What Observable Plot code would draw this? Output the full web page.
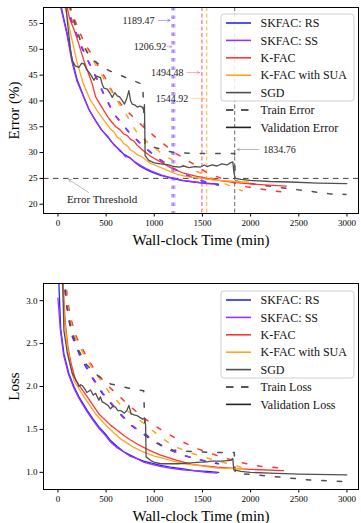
<!DOCTYPE html>
<html><head><meta charset="utf-8">
<script src="https://cdn.jsdelivr.net/npm/d3@7"></script>
<script src="https://cdn.jsdelivr.net/npm/@observablehq/plot@0.6"></script>
<style>
body{margin:0;background:#fff;}
#wrap{position:relative;width:361px;height:523px;font-family:"Liberation Serif","Times New Roman",serif;background:#fff;}
#topChart,#bottomChart{position:absolute;left:0;}
#topChart{top:0}#bottomChart{top:260px}
#legend{position:absolute;left:0;top:0;pointer-events:none}
</style></head><body><div id="wrap"><div id="topChart"></div><div id="bottomChart"></div><svg id="legend" width="361" height="523"></svg></div>
<script>
// ---------- data ----------
const methods = ["SKFAC: RS", "SKFAC: SS", "K-FAC", "K-FAC with SUA", "SGD"];
const xTicks = [0, 500, 1000, 1500, 2000, 2500, 3000];
const errTicks = [20, 25, 30, 35, 40, 45, 50, 55];
const lossTicks = [1.0, 1.5, 2.0, 2.5, 3.0];
const errorThreshold = 25;
const thresholdTimes = [1189.47, 1206.92, 1494.48, 1544.92, 1834.76]; // same order as methods

// validation error [time(min), error %]
const rsValErr = [[25,59],[60,56],[97,53.0],[149,47.8],[201,44.0],[270,40.7],[321,38.4],[391,36.2],[450,34.5],[512,33.1],[580,31.6],[650,30.2],[700,29.5],[753,28.9],[800,28.1],[857,27.3],[910,26.8],[961,26.3],[1065,25.6],[1130,25.3],[1189,25.0],[1280,24.6],[1406,24.3],[1530,24.1],[1668,23.9]];
const ssValErr = [[18,59],[55,56],[92,53.0],[145,47.6],[198,43.8],[265,40.8],[325,38.2],[395,36.0],[455,34.3],[515,33.2],[585,31.4],[650,30.4],[700,29.2],[740,29.1],[790,28.3],[860,27.5],[915,26.9],[970,26.4],[1070,25.7],[1140,25.3],[1207,25.0],[1300,24.6],[1420,24.3],[1540,24.0],[1650,23.9]];
const kfacValErr = [[75,60],[120,56],[183,53.0],[270,47.8],[356,43.3],[391,40.8],[442,39.2],[528,36.6],[600,35.0],[640,34.5],[684,33.6],[720,33.3],[750,32.6],[790,32.2],[823,31.4],[890,30.3],[961,29.3],[1065,28.2],[1180,27.0],[1306,26.0],[1420,25.5],[1545,25.0],[1700,24.5],[1900,24.1],[2100,23.8],[2370,23.5]];
const suaValErr = [[50,60],[100,56],[132,53.0],[194,47.8],[260,43.5],[338,40.1],[408,38.1],[477,36.3],[545,34.6],[580,34.0],[615,33.0],[650,32.6],[685,31.7],[720,31.3],[753,30.5],[790,30.1],[820,29.6],[860,29.3],[892,28.9],[960,27.9],[1030,27.4],[1130,26.6],[1237,25.8],[1350,25.3],[1494,25.0],[1600,24.7],[1750,24.5],[1900,24.3],[1977,24.3]];
const sgdValErr = [[75,60],[100,55],[130,50],[149,47.8],[180,46.8],[218,46.5],[245,47.3],[270,47.2],[300,46.0],[321,45.6],[350,44.8],[373,44.0],[400,44.8],[442,44.5],[460,43.2],[477,42.5],[512,42.3],[540,41.5],[564,40.7],[590,41.6],[615,41.0],[640,40.8],[667,40.1],[691,39.4],[715,40.5],[736,42.0],[755,40.0],[771,39.4],[800,39.2],[823,38.8],[850,39.0],[875,38.8],[892,38.2],[898,39.3],[905,29.4],[943,28.5],[1000,28.0],[1065,27.8],[1150,27.6],[1202,27.3],[1260,27.2],[1306,27.4],[1360,27.1],[1420,27.3],[1479,27.2],[1520,27.6],[1548,27.3],[1600,27.6],[1652,27.4],[1700,27.8],[1755,27.6],[1790,28.0],[1815,28.2],[1828,26.0],[1840,25.0],[1900,24.8],[1997,24.6],[2200,24.4],[2411,24.3],[2700,24.1],[2999,24.0]];

// train error
const rsTrainErr = [[95,59],[130,56],[205,52],[300,48.2],[410,44.0],[470,41.5],[580,37.5],[735,34.0],[880,31.3],[1030,29.0],[1190,27.0],[1350,25.5],[1500,24.5],[1665,23.7]];
const ssTrainErr = [[102,59],[138,56],[213,52],[308,48.0],[418,43.8],[478,41.3],[590,37.3],[745,33.8],[890,31.2],[1040,28.9],[1200,26.9],[1360,25.4],[1510,24.4],[1650,23.7]];
const kfacTrainErr = [[120,58.5],[170,55.9],[260,51.8],[380,48.0],[490,44.5],[598,40.6],[719,38.0],[875,35.2],[1030,32.7],[1202,30.1],[1395,27.9],[1550,26.1],[1750,24.6],[1955,23.4],[2225,22.6],[2370,22.3]];
const suaTrainErr = [[110,58.5],[150,55.9],[235,51.8],[360,48.0],[470,44.5],[600,40.5],[715,37.2],[825,33.7],[978,31.2],[1134,29.1],[1300,27.5],[1530,25.6],[1700,24.2],[1913,22.6]];
const sgdTrainErr = [[120,58.5],[160,55.9],[230,51.8],[340,48.2],[527,45.9],[735,44.3],[880,43.2],[905,31.5],[1003,31.0],[1200,30.0],[1469,29.8],[1740,29.8],[1834,29.8],[1840,24.5],[2143,23.6],[2620,22.5],[2820,22.0],[2990,21.9]];

// validation loss
const rsValLoss = [[8,3.25],[28,2.68],[62,2.38],[114,2.15],[166,2.0],[218,1.88],[305,1.72],[365,1.62],[425,1.53],[490,1.45],[546,1.37],[615,1.30],[684,1.24],[750,1.20],[823,1.16],[890,1.13],[961,1.11],[1065,1.08],[1168,1.06],[1300,1.04],[1412,1.02],[1550,1.01],[1668,1.00]];
const ssValLoss = [[0,3.03],[25,2.66],[58,2.37],[110,2.14],[162,1.99],[214,1.87],[300,1.71],[360,1.61],[420,1.52],[485,1.44],[540,1.36],[610,1.29],[680,1.24],[745,1.19],[820,1.16],[885,1.12],[955,1.10],[1060,1.07],[1160,1.05],[1290,1.03],[1400,1.02],[1540,1.00],[1650,0.99]];
const kfacValLoss = [[50,3.25],[75,2.75],[105,2.45],[140,2.25],[183,2.07],[305,1.88],[425,1.68],[546,1.55],[615,1.49],[684,1.43],[750,1.38],[823,1.33],[890,1.29],[961,1.25],[1065,1.20],[1237,1.14],[1400,1.09],[1652,1.06],[1900,1.04],[2100,1.03],[2343,1.02]];
const suaValLoss = [[45,3.25],[70,2.75],[100,2.45],[130,2.25],[166,2.07],[270,1.88],[391,1.68],[512,1.53],[580,1.46],[650,1.39],[720,1.34],[788,1.29],[860,1.25],[926,1.22],[1000,1.19],[1065,1.17],[1200,1.13],[1306,1.10],[1450,1.08],[1652,1.05],[1925,1.04]];
const sgdValLoss = [[48,3.25],[62,2.65],[97,2.39],[149,2.15],[201,2.05],[218,2.0],[235,2.02],[253,2.01],[280,1.97],[300,1.93],[339,1.96],[365,1.90],[391,1.92],[425,1.84],[440,1.88],[460,1.82],[494,1.80],[520,1.78],[545,1.74],[570,1.77],[598,1.76],[620,1.72],[650,1.72],[690,1.69],[715,1.72],[736,1.78],[760,1.68],[790,1.67],[823,1.66],[850,1.64],[880,1.62],[900,1.63],[910,1.55],[915,1.18],[960,1.14],[995,1.12],[1065,1.10],[1134,1.10],[1250,1.10],[1380,1.11],[1479,1.12],[1520,1.12],[1600,1.13],[1700,1.13],[1790,1.14],[1815,1.16],[1825,1.03],[1900,1.01],[1997,1.00],[2200,0.99],[2500,0.98],[2999,0.97]];

// train loss
const rsTrainLoss = [[60,3.3],[80,3.05],[106,2.82],[149,2.58],[235,2.34],[339,2.13],[460,1.92],[588,1.75],[744,1.56],[930,1.41],[1115,1.28],[1324,1.19],[1530,1.13],[1665,1.10]];
const ssTrainLoss = [[68,3.3],[88,3.05],[114,2.82],[157,2.58],[243,2.34],[347,2.13],[468,1.92],[596,1.75],[752,1.56],[938,1.41],[1123,1.28],[1332,1.19],[1538,1.13],[1650,1.11]];
const kfacTrainLoss = [[80,3.3],[95,3.05],[130,2.80],[195,2.57],[300,2.34],[410,2.14],[546,1.98],[719,1.80],[883,1.64],[1065,1.50],[1262,1.37],[1460,1.27],[1665,1.19],[1872,1.12],[2100,1.07],[2330,1.05]];
const suaTrainLoss = [[70,3.3],[85,3.05],[120,2.80],[180,2.57],[284,2.34],[401,2.14],[527,1.94],[671,1.76],[867,1.59],[1023,1.45],[1190,1.31],[1395,1.22],[1600,1.15],[1900,1.06]];
const sgdTrainLoss = [[60,3.3],[90,2.95],[130,2.7],[200,2.45],[300,2.25],[420,2.12],[546,2.03],[736,1.98],[890,1.95],[905,1.45],[1003,1.35],[1190,1.26],[1417,1.24],[1645,1.23],[1830,1.23],[1840,0.99],[2160,0.96],[2620,0.91],[2827,0.90],[2990,0.89]];

// ---------- styles / layout ----------
const colors = {"SKFAC: RS":"#2424ff","SKFAC: SS":"#9a30ff","K-FAC":"#ff3535","K-FAC with SUA":"#ffa51f","SGD":"#505050"};
const errVal = [rsValErr, ssValErr, kfacValErr, suaValErr, sgdValErr];
const errTrain = [rsTrainErr, ssTrainErr, kfacTrainErr, suaTrainErr, sgdTrainErr];
const lossVal = [rsValLoss, ssValLoss, kfacValLoss, suaValLoss, sgdValLoss];
const lossTrain = [rsTrainLoss, ssTrainLoss, kfacTrainLoss, suaTrainLoss, sgdTrainLoss];
// annotation layout: label height (error %), text offset (px), arrow start offset (min)
const annotLayout = [
  {y:55.6, dx:-18, anchor:"end", from:-145},
  {y:50.5, dx:-8, anchor:"end", from:-72},
  {y:45.5, dx:-18.5, anchor:"end", from:-155},
  {y:40.5, dx:-18.4, anchor:"end", from:-166},
  {y:30.6, dx:28.6, anchor:"start", from:250}
];
const thresholdNote = {text:"Error Threshold", tx:458, ty:20.9, ax1:318, ay1:22.27, ax2:111, ay2:24.8};
const FONT = "'Liberation Serif', 'Times New Roman', serif";
const rows = pts => pts.map(([t, v]) => ({t, v}));

function baseMarks(ticks, yFmt, yLabel) {
  return [
    Plot.frame({stroke:"black", strokeWidth:1}),
    Plot.axisX({ticks: xTicks, tickSize:3.5, tickPadding:2.5, fontSize:9, label:null, tickFormat:d => String(d)}),
    Plot.axisY({ticks: ticks, tickSize:3.5, tickPadding:2.5, fontSize:9, label:null, tickFormat:yFmt}),
    Plot.text(["Wall-clock Time (min)"], {text:d => d, frameAnchor:"bottom", dy:26.5, fontSize:15, textAnchor:"middle", lineAnchor:"middle"}),
    Plot.text([yLabel], {text:d => d, frameAnchor:"left", dx:-29, rotate:-90, fontSize:15, textAnchor:"middle", lineAnchor:"middle"})
  ];
}
function curveMarks(trainSets, valSets) {
  const m = [];
  trainSets.forEach((pts, i) => m.push(Plot.line(rows(pts), {x:"t", y:"v", stroke:colors[methods[i]], strokeWidth:1.5, strokeDasharray:"4.5,11", clip:true})));
  valSets.forEach((pts, i) => m.push(Plot.line(rows(pts), {x:"t", y:"v", stroke:colors[methods[i]], strokeWidth:1.3, clip:true})));
  return m;
}

// ---------- top: error ----------
const errMarks = [
  Plot.ruleY([errorThreshold], {stroke:"#444", strokeWidth:1, strokeDasharray:"5.5,4.5"}),
  Plot.ruleX(thresholdTimes.slice(0,2), {x:d => d, stroke:(d,i) => colors[methods[i]], strokeWidth:2.6, strokeOpacity:0.4, strokeDasharray:"3.5,5"}),
  Plot.ruleX(thresholdTimes.slice(2), {x:d => d, stroke:(d,i) => colors[methods[i+2]], strokeWidth:1, strokeOpacity:0.85, strokeDasharray:"4,2.5"}),
  ...curveMarks(errTrain, errVal)
];
thresholdTimes.forEach((t, i) => {
  const L = annotLayout[i], c = colors[methods[i]];
  errMarks.push(Plot.arrow([t], {x1:d => d + L.from, y1:L.y, x2:d => d, y2:L.y, insetEnd:2.5, stroke:c, strokeOpacity:0.5, strokeWidth:0.8, headLength:5}));
  errMarks.push(Plot.text([t], {x:d => d, y:L.y, text:d => d.toFixed(2), dx:L.dx, textAnchor:L.anchor, fontSize:10, fill:"#222"}));
});
errMarks.push(Plot.arrow([thresholdNote], {x1:"ax1", y1:"ay1", x2:"ax2", y2:"ay2", stroke:"#888", strokeOpacity:0.7, strokeWidth:0.8, headLength:6}));
errMarks.push(Plot.text([thresholdNote], {x:"tx", y:"ty", text:"text", fontSize:11, fill:"#222"}));
errMarks.push(...baseMarks(errTicks, d => String(d), "Error (%)"));

const topPlot = Plot.plot({
  width:361, height:260, marginLeft:43, marginRight:3, marginTop:7, marginBottom:47,
  style:{fontFamily:FONT, background:"white", color:"black", overflow:"visible"},
  x:{domain:[-150, 3120]}, y:{domain:[18.2, 58.1]},
  marks: errMarks
});
document.getElementById("topChart").appendChild(topPlot);

// ---------- bottom: loss ----------
const bottomPlot = Plot.plot({
  width:361, height:263, marginLeft:43, marginRight:3, marginTop:23, marginBottom:34,
  style:{fontFamily:FONT, background:"white", color:"black", overflow:"visible"},
  x:{domain:[-150, 3120]}, y:{domain:[0.8, 3.2]},
  marks: [...curveMarks(lossTrain, lossVal), ...baseMarks(lossTicks, d3.format(".1f"), "Loss")]
});
document.getElementById("bottomChart").appendChild(bottomPlot);

// ---------- legends ----------
const leg = d3.select("#legend").style("font-family", FONT);
function legend(y0, kinds) {
  const g = leg.append("g");
  g.append("rect").attr("x", 221).attr("y", y0 - 9).attr("width", 133).attr("height", 87).attr("rx", 3)
    .attr("fill", "rgba(255,255,255,0.85)").attr("stroke", "#d0d0d0").attr("stroke-width", 1);
  const items = methods.map(m => ({label:m, color:colors[m], dash:null}))
    .concat([{label:kinds[0], color:"#222", dash:"7.5,7.5"}, {label:kinds[1], color:"#222", dash:null}]);
  items.forEach((it, i) => {
    const y = y0 + i * 17.4;
    g.append("line").attr("x1", 226).attr("x2", 251).attr("y1", y).attr("y2", y)
      .attr("stroke", it.color).attr("stroke-width", 1.6).attr("stroke-dasharray", it.dash);
    g.append("text").attr("x", 260.5).attr("y", y).attr("dy", "0.35em").attr("font-size", 12).attr("fill", "#111").text(it.label);
  });
}
legend(23, ["Train Error", "Validation Error"]);
legend(300, ["Train Loss", "Validation Loss"]);
</script></body></html>
